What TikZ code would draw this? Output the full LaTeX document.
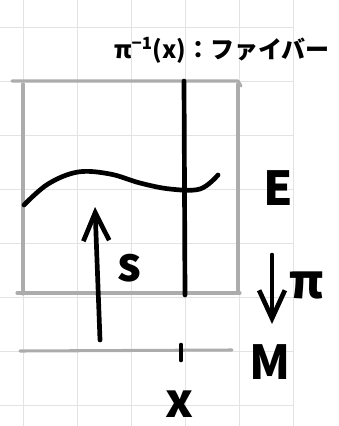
\documentclass[tikz,border=0pt]{standalone}
\usepackage{fontspec}
\newfontfamily\jpfont{Noto Sans CJK JP}
\usetikzlibrary{arrows.meta}
\tikzset{
  gridline/.style = {draw=gray!22, line width=0.7pt},
  boxline/.style  = {draw=gray!65, line width=2.6pt, line cap=round, line join=round},
  inkline/.style  = {draw=black, line width=4pt, line cap=round, line join=round},
  inkarrow/.style = {inkline, -{Straight Barb[length=24pt, width=22pt, line width=4pt]}},
  hand/.style     = {font=\jpfont\bfseries\fontsize{40}{40}\selectfont, inner sep=0pt},
  handsmall/.style = {font=\jpfont\bfseries\fontsize{20.5}{20.5}\selectfont, inner sep=0pt},
}

\begin{document}
\begin{tikzpicture}[x=0.03cm, y=-0.03cm]
    \useasboundingbox (0,0) rectangle (338,426);

    % squared paper
    \foreach \gx in {23,77,131,185,239,293}
      \draw[gridline] (\gx,0) -- (\gx,426);
    \foreach \gy in {27,81,135,189,243,297,351,405}
      \draw[gridline] (0,\gy) -- (293,\gy);

    % total space E
    \draw[boxline] (12,81) -- (238,81) -- (241,86);
    \draw[boxline] (23,84) -- (23,294);
    \draw[boxline] (238,84) -- (238,293);
    \draw[boxline] (17,293) -- (240,293);

    % base space M
    \coordinate (mleft)  at (20,351);
    \coordinate (mright) at (232,350);
    \draw[boxline] (mleft) -- (mright);

    % fibre over x
    \coordinate (fibtop) at (184,81);
    \coordinate (fibbot) at (185,295);
    \draw[inkline] (fibtop) -- (fibbot);
    \coordinate (ticktop) at (181,345);
    \coordinate (tickbot) at (181,360);
    \draw[inkline] (ticktop) -- (tickbot);

    % section s
    \draw[inkline] plot[smooth, tension=0.6] coordinates
      {(24,205) (48,184) (78,172) (110,174) (140,183) (170,189) (200,189) (218,175)};

    \coordinate (sfrom) at (100,340);
    \coordinate (sto)   at (95,207);
    \draw[inkarrow] (sfrom) -- (sto);

    \coordinate (pifrom) at (272,255);
    \coordinate (pito)   at (272,324);
    \draw[inkarrow] (pifrom) -- (pito);

    % labels
    \node[handsmall] (fibre) at (222,50)
      {π\textsuperscript{−1}(x)：ファイバー};
    \node[hand] (slab)  at (129,268) {s};
    \node[hand] (elab)  at (278,188) {E};
    \node[hand] (pilab) at (307,285) {π};
    \node[hand] (mlab)  at (270,362) {M};
    \node[hand] (xlab)  at (180,404) {x};

  \end{tikzpicture}
\end{document}
